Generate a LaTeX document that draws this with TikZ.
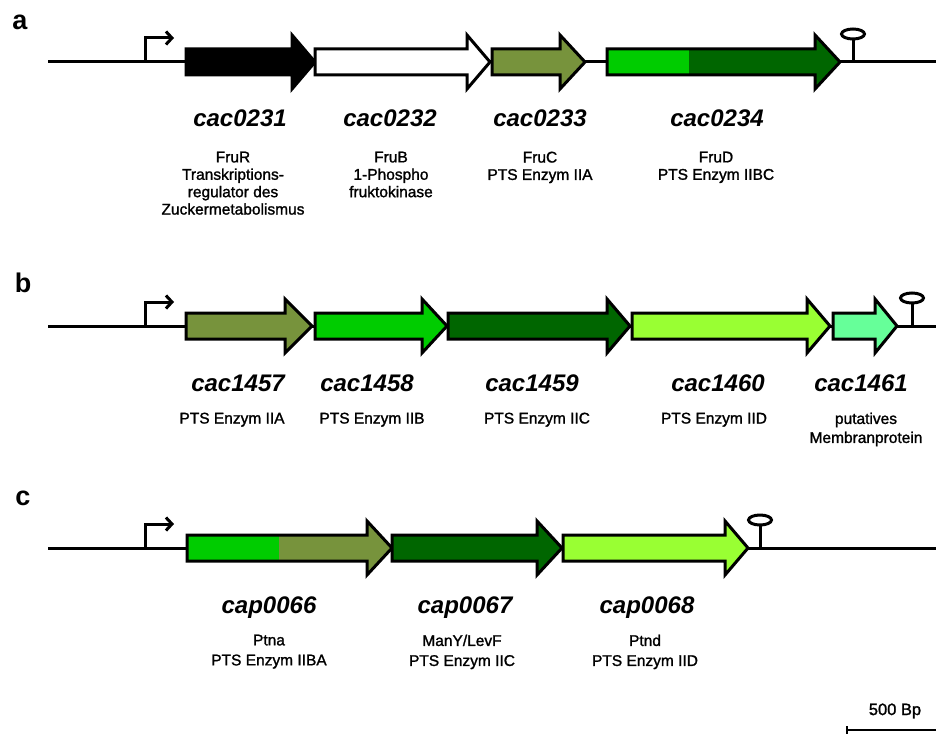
\documentclass[tikz,border=0pt]{standalone}
\usepackage{fontspec}
\setmainfont{Liberation Sans}
\newfontfamily\descfont[FakeBold=1.4]{Liberation Sans}
\usetikzlibrary{arrows.meta,calc}

\definecolor{olivegene}{HTML}{77933C}
\definecolor{greengene}{HTML}{00CC00}
\definecolor{darkgene}{HTML}{006600}
\definecolor{lightgene}{HTML}{99FF33}
\definecolor{mintgene}{HTML}{66FF99}

% gene arrow: start x, head start x, tip x, axis y, fill colour
\newcommand{\genearrow}[5]{%
  \filldraw[genebody, fill=#5] (#1,#4-13) -- (#2,#4-13) -- (#2,#4-27) -- (#3,#4)
    -- (#2,#4+27) -- (#2,#4+13) -- (#1,#4+13) -- cycle;}
% two-coloured gene arrow: start, colour split, head start, tip, y, left colour, right colour
\newcommand{\genetwo}[7]{%
  \fill[#7] (#1,#5-13) -- (#3,#5-13) -- (#3,#5-27) -- (#4,#5)
    -- (#3,#5+27) -- (#3,#5+13) -- (#1,#5+13) -- cycle;
  \fill[#6] (#1,#5-13) rectangle (#2,#5+13);
  \draw[genebody] (#1,#5-13) -- (#3,#5-13) -- (#3,#5-27) -- (#4,#5)
    -- (#3,#5+27) -- (#3,#5+13) -- (#1,#5+13) -- cycle;}
% promoter arrow at x, backbone y
\newcommand{\promoter}[2]{%
  \draw[promo] (#1,#2) -- (#1,#2-24) -- (#1+29,#2-24);}
% terminator at x, backbone y
\newcommand{\terminator}[2]{%
  \draw[backbone] (#1,#2) -- (#1,#2-23);
  \draw[backbone, fill=white] (#1,#2-28) ellipse [x radius=11.5, y radius=5];}

\tikzset{
  backbone/.style={line width=3pt, black},
  genebody/.style={line width=3pt, draw=black, line join=miter},
  promo/.style={line width=3pt, line join=miter, -{Straight Barb[length=6pt, width=13pt, line width=3pt]}},
  panel/.style={font=\fontsize{27}{27}\selectfont\bfseries, inner sep=0pt},
  genename/.style={font=\fontsize{24}{24}\selectfont\bfseries\itshape, inner sep=0pt, anchor=base},
  genedesc/.style={align=center, inner sep=0pt, anchor=north},
}

\begin{document}
\begin{tikzpicture}[x=1pt, y=-1pt]
\useasboundingbox (0,0) rectangle (936,733);

% ---------------- panel a ----------------
\node[panel] (la) at (20,22) {a};
\draw[backbone] (48,62) -- (936,62);
\promoter{145}{62}
\genearrow{186}{292}{315}{62}{black}
\genearrow{315}{467}{490}{62}{white}
\genearrow{492}{560}{585}{62}{olivegene}
\genetwo{607}{689}{815}{840}{62}{greengene}{darkgene}
\terminator{853}{62}

\node[genename] (ga1) at (240,127) {cac0231};
\node[genename] (ga2) at (390,127) {cac0232};
\node[genename] (ga3) at (540,127) {cac0233};
\node[genename] (ga4) at (717,127) {cac0234};

\begin{scope}[every node/.append style={font=\descfont\fontsize{15.5}{17.4}\selectfont}]
\node[genedesc] (da1) at (233,151.5) {FruR\\Transkriptions-\\regulator des\\Zuckermetabolismus};
\node[genedesc] (da2) at (391,151.5) {FruB\\1-Phospho\\fruktokinase};
\node[genedesc] (da3) at (540,151.5) {FruC\\PTS Enzym IIA};
\node[genedesc] (da4) at (716,151.5) {FruD\\PTS Enzym IIBC};
\end{scope}

% ---------------- panel b ----------------
\node[panel] (lb) at (23,283) {b};
\draw[backbone] (48,326) -- (936,326);
\promoter{145}{326}
\genearrow{186}{285}{312}{326}{olivegene}
\genearrow{315}{422}{447}{326}{greengene}
\genearrow{448}{607}{630}{326}{darkgene}
\genearrow{632}{807}{830}{326}{lightgene}
\genearrow{833}{875}{897}{326}{mintgene}
\terminator{912}{326}

\node[genename] (gb1) at (238,391) {cac1457};
\node[genename] (gb2) at (367,391) {cac1458};
\node[genename] (gb3) at (532,391) {cac1459};
\node[genename] (gb4) at (718,391) {cac1460};
\node[genename] (gb5) at (861,391) {cac1461};

\begin{scope}[every node/.append style={font=\descfont\fontsize{15.5}{19}\selectfont}]
\node[genedesc] (db1) at (232,412.5) {PTS Enzym IIA};
\node[genedesc] (db2) at (372,412.5) {PTS Enzym IIB};
\node[genedesc] (db3) at (537,412.5) {PTS Enzym IIC};
\node[genedesc] (db4) at (714,412.5) {PTS Enzym IID};
\node[genedesc] (db5) at (866,412.5) {putatives\\Membranprotein};
\end{scope}

% ---------------- panel c ----------------
\node[panel] (lc) at (23,498) {c};
\draw[backbone] (48,548) -- (936,548);
\promoter{145}{548}
\genetwo{187}{279}{367}{392}{548}{greengene}{olivegene}
\genearrow{392}{537}{562}{548}{darkgene}
\genearrow{563}{725}{748}{548}{lightgene}
\terminator{760}{548}

\node[genename] (gc1) at (269,613) {cap0066};
\node[genename] (gc2) at (465,613) {cap0067};
\node[genename] (gc3) at (647,613) {cap0068};

\begin{scope}[every node/.append style={font=\descfont\fontsize{15.5}{20}\selectfont}]
\node[genedesc] (dc1) at (269,634.5) {Ptna\\PTS Enzym IIBA};
\node[genedesc] (dc2) at (462,634.5) {ManY/LevF\\PTS Enzym IIC};
\node[genedesc] (dc3) at (645,634.5) {Ptnd\\PTS Enzym IID};
\end{scope}

% ---------------- scale bar ----------------
\node[font=\descfont\fontsize{16.5}{16.5}\selectfont, inner sep=0pt] (sb) at (895,711) {500 Bp};
\coordinate (sbl) at (847,730);
\coordinate (sbr) at (936,730);
\draw[line width=2pt] (sbl) -- (sbr);
\draw[line width=1.5pt] ($(sbl)+(0,-4)$) -- ($(sbl)+(0,4)$);
\end{tikzpicture}
\end{document}
